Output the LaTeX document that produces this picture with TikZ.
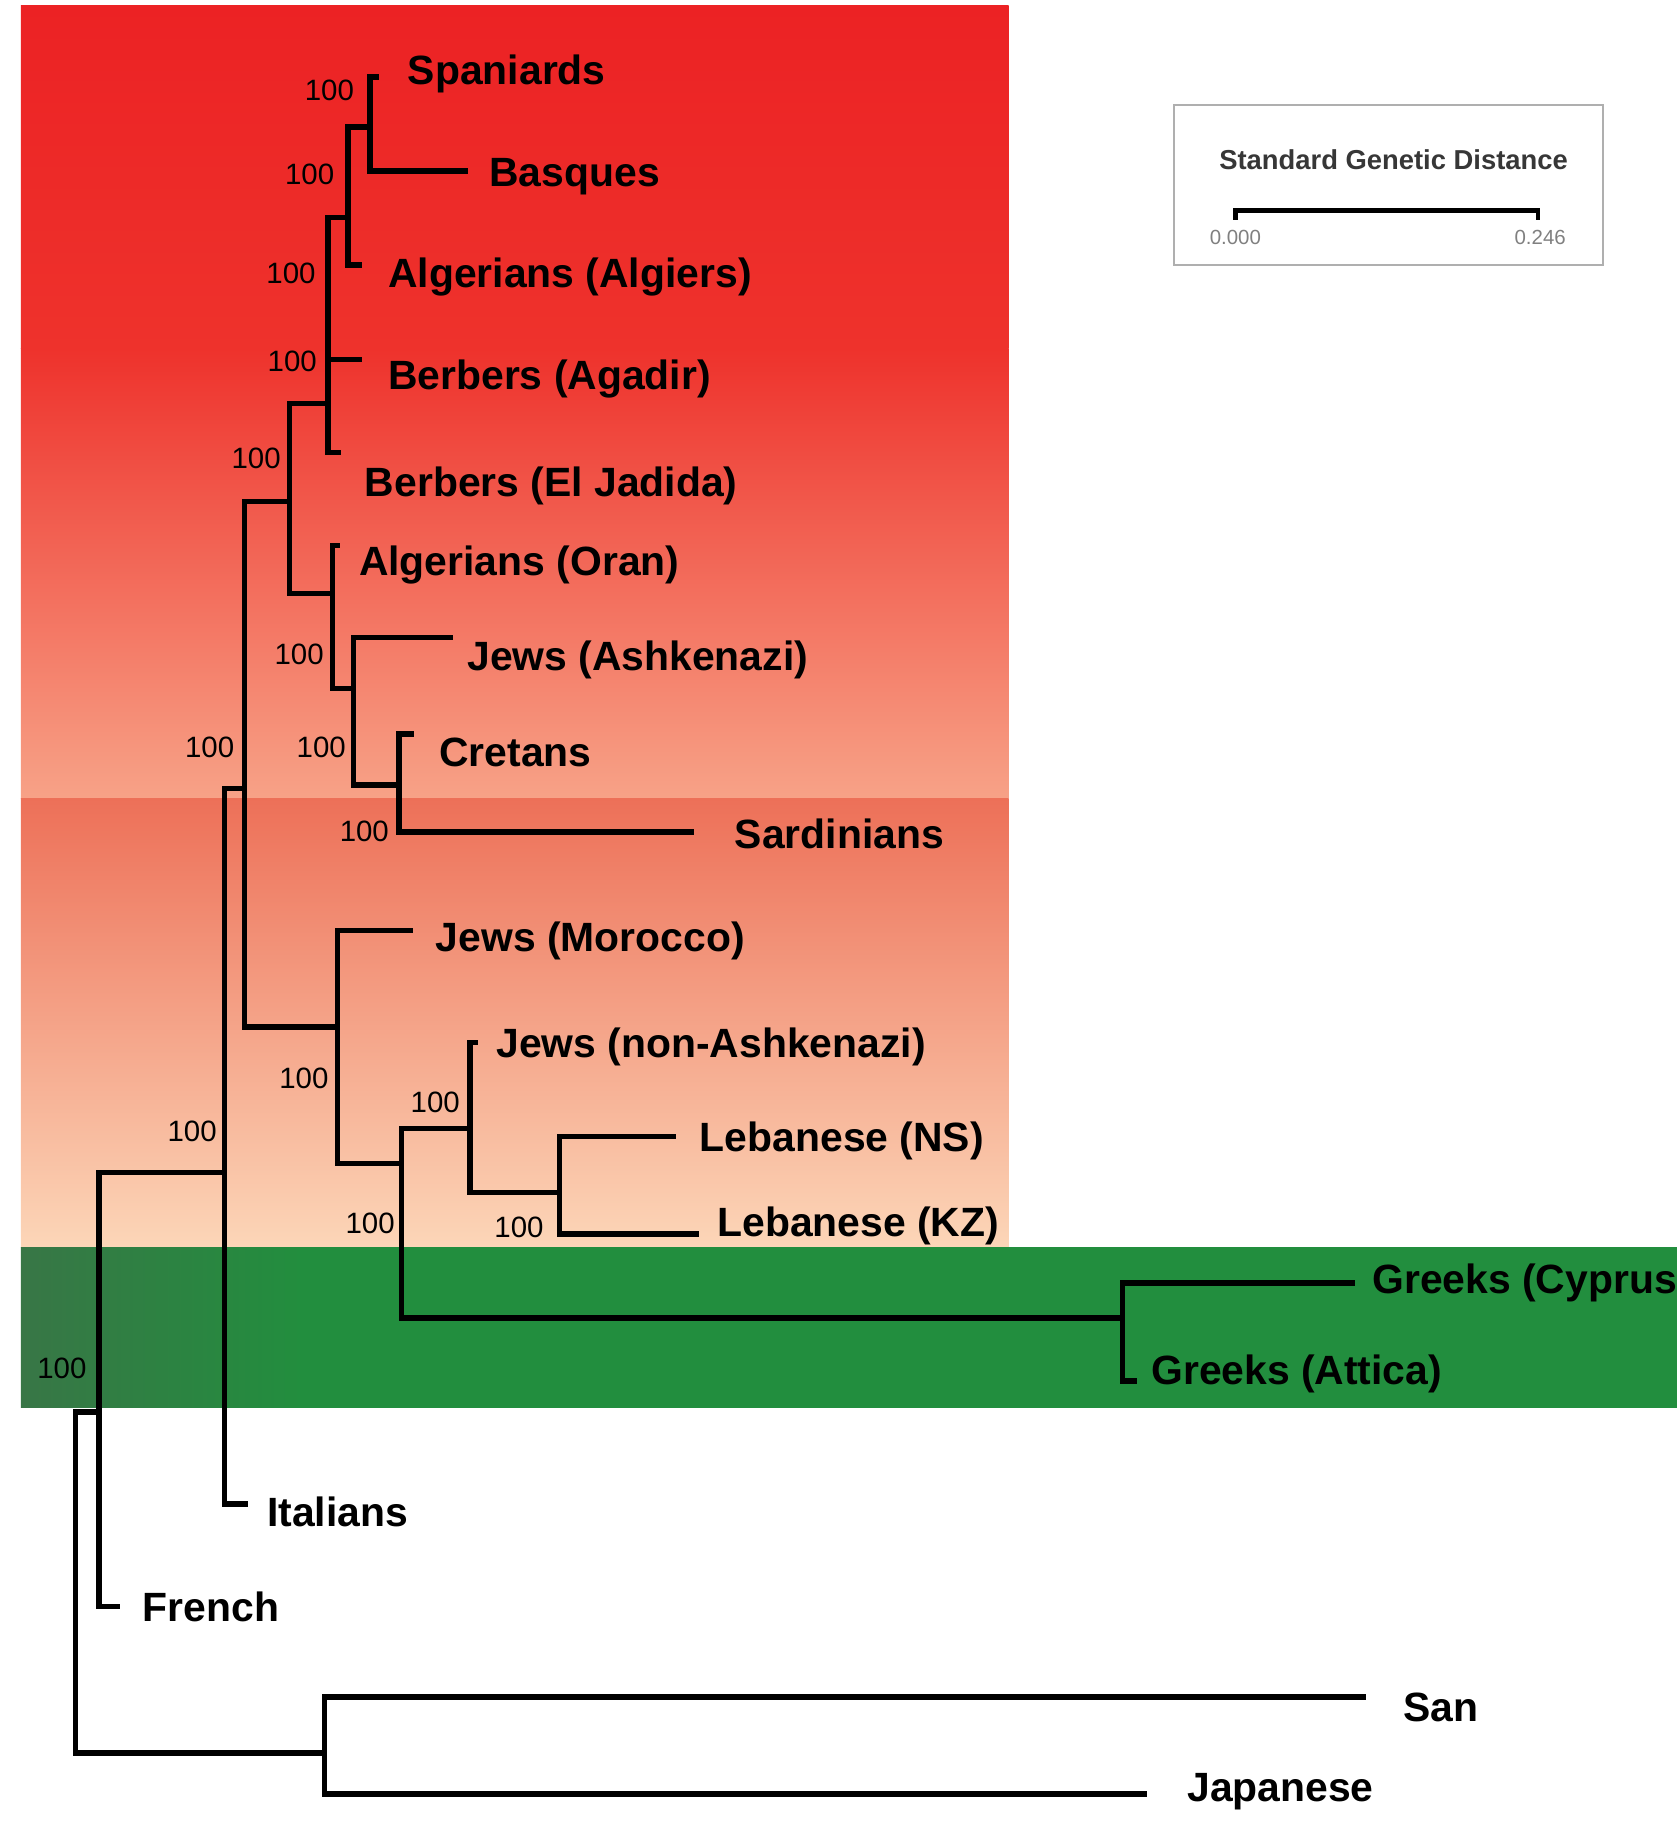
\documentclass[tikz,border=0pt]{standalone}
\usepackage{fontspec}
\setmainfont{Liberation Sans}
\newcommand{\agVastag}{1.35pt}
\newcommand{\nepBetu}{\bfseries\fontsize{10}{12}\selectfont}
\newcommand{\biztBetu}{\fontsize{7.2}{8}\selectfont}
\definecolor{pirosFent}{RGB}{236,34,36}
\definecolor{pirosKozep}{RGB}{238,50,44}
\definecolor{pirosLent}{RGB}{247,162,135}
\definecolor{lazacFent}{RGB}{237,112,88}
\definecolor{lazacLent}{RGB}{252,214,184}
\definecolor{zoldBal}{RGB}{56,118,70}
\definecolor{zoldKozep}{RGB}{34,142,62}
\definecolor{keretSzurke}{RGB}{175,175,175}
\definecolor{feliratSzurke}{RGB}{55,55,55}
\tikzset{
	ag/.style={line width=\agVastag,line join=miter},
	nep/.style={anchor=base west,inner sep=0pt,font=\nepBetu},
	bizt/.style={anchor=base east,inner sep=0pt,font=\biztBetu},
	skalaSzam/.style={inner sep=0pt,text=gray,font=\fontsize{5}{6}\selectfont},
}

\begin{document}
\begin{tikzpicture}[x=0.1mm,y=-0.1mm]
	\useasboundingbox (0,0) rectangle (1442,1568);
	% háttérsávok
	\shade[top color=pirosFent,bottom color=pirosKozep] (18,5) rectangle (867,300);
	\shade[top color=pirosKozep,bottom color=pirosLent] (18,300) rectangle (867,686);
	\shade[top color=lazacFent,bottom color=lazacLent] (18,686) rectangle (867,1072);
	\fill[zoldKozep] (18,1072) rectangle (1442,1210);
	\shade[left color=zoldBal,right color=zoldKozep] (18,1072) rectangle (260,1210);
	% belső elágazások
	\coordinate (n1) at (318,109);
	\coordinate (n2) at (299,187);
	\coordinate (n3) at (282,347);
	\coordinate (n4) at (249,431);
	\coordinate (n5) at (286,510);
	\coordinate (n6) at (304,592);
	\coordinate (n7) at (343,675);
	\coordinate (n8) at (210,678);
	\coordinate (n9) at (290,883);
	\coordinate (n10) at (345,1000);
	\coordinate (n11) at (404,970);
	\coordinate (n12) at (481,1025);
	\coordinate (n13) at (965,1133);
	\coordinate (n14) at (193,1008);
	\coordinate (n15) at (85,1214);
	\coordinate (n16) at (279,1507);
	\coordinate (gyoker) at (65,1360);
	% levelek végpontjai
	\coordinate (tSpa) at (326,66);
	\coordinate (tBas) at (402,147);
	\coordinate (tAlg) at (311,228);
	\coordinate (tAga) at (311,309);
	\coordinate (tElJ) at (293,389);
	\coordinate (tOra) at (292,469);
	\coordinate (tAsk) at (389,548);
	\coordinate (tCre) at (356,631);
	\coordinate (tSar) at (597,715);
	\coordinate (tMor) at (355,800);
	\coordinate (tNon) at (411,896);
	\coordinate (tNS) at (581,977);
	\coordinate (tKZ) at (601,1061);
	\coordinate (tCyp) at (1165,1103);
	\coordinate (tAtt) at (977,1187);
	\coordinate (tIta) at (213,1293);
	\coordinate (tFre) at (103,1381);
	\coordinate (tSan) at (1174,1459);
	\coordinate (tJap) at (986,1542);
	% fa ágai
	\draw[ag] (n1) |- (tSpa) (n1) |- (tBas)
	(n2) |- (n1) (n2) |- (tAlg)
	(n3) |- (n2) (n3) |- (tAga) (n3) |- (tElJ)
	(n4) |- (n3) (n4) |- (n5)
	(n5) |- (tOra) (n5) |- (n6)
	(n6) |- (tAsk) (n6) |- (n7)
	(n7) |- (tCre) (n7) |- (tSar)
	(n8) |- (n4) (n8) |- (n9)
	(n9) |- (tMor) (n9) |- (n10)
	(n10) |- (n11) (n10) |- (n13)
	(n11) |- (tNon) (n11) |- (n12)
	(n12) |- (tNS) (n12) |- (tKZ)
	(n13) |- (tCyp) (n13) |- (tAtt)
	(n14) |- (n8) (n14) |- (tIta)
	(n15) |- (n14) (n15) |- (tFre)
	(gyoker) |- (n15) (gyoker) |- (n16)
	(n16) |- (tSan) (n16) |- (tJap);
	% populációk
	\node[nep] (lSpa) at (350,73) {Spaniards};
	\node[nep] (lBas) at (420,160) {Basques};
	\node[nep] (lAlg) at (333,247) {Algerians (Algiers)};
	\node[nep] (lAga) at (333,335) {Berbers (Agadir)};
	\node[nep] (lElJ) at (313,427) {Berbers (El Jadida)};
	\node[nep] (lOra) at (308,495) {Algerians (Oran)};
	\node[nep] (lAsk) at (401,576) {Jews (Ashkenazi)};
	\node[nep] (lCre) at (377,659) {Cretans};
	\node[nep] (lSar) at (631,729) {Sardinians};
	\node[nep] (lMor) at (374,818) {Jews (Morocco)};
	\node[nep] (lNon) at (426,909) {Jews (non-Ashkenazi)};
	\node[nep] (lNS) at (601,990) {Lebanese (NS)};
	\node[nep] (lKZ) at (616,1063) {Lebanese (KZ)};
	\node[nep] (lCyp) at (1179,1112) {Greeks (Cyprus};
	\node[nep] (lAtt) at (989,1190) {Greeks (Attica)};
	\node[nep] (lIta) at (229,1312) {Italians};
	\node[nep] (lFre) at (122,1394) {French};
	\node[nep] (lSan) at (1206,1480) {San};
	\node[nep] (lJap) at (1020,1549) {Japanese};
	% bootstrap értékek
	\foreach \x/\y [count=\i] in {305/86,288/159,272/244,273/319,242/403,279/571,202/651,298/651,335/723,283/936,396/956,187/981,340/1060,468/1064,75/1185}
		\node[bizt] (b\i) at (\x,\y) {100};
	% skála
	\draw[keretSzurke,line width=0.4pt] (1009,90) rectangle (1378,228);
	\node[inner sep=0pt,text=feliratSzurke,font=\bfseries\fontsize{6.7}{8}\selectfont] (cim) at (1198,137) {Standard Genetic Distance};
	\coordinate (skalaBal) at (1062,181);
	\coordinate (skalaJobb) at (1322,181);
	\draw[line width=1.1pt] (skalaBal) ++(0,8) -- (skalaBal) -- (skalaJobb) -- ++(0,8);
	\node[skalaSzam] (nulla) at (1062,204) {0.000};
	\node[skalaSzam] (maxErtek) at (1324,204) {0.246};
\end{tikzpicture}
\end{document}
